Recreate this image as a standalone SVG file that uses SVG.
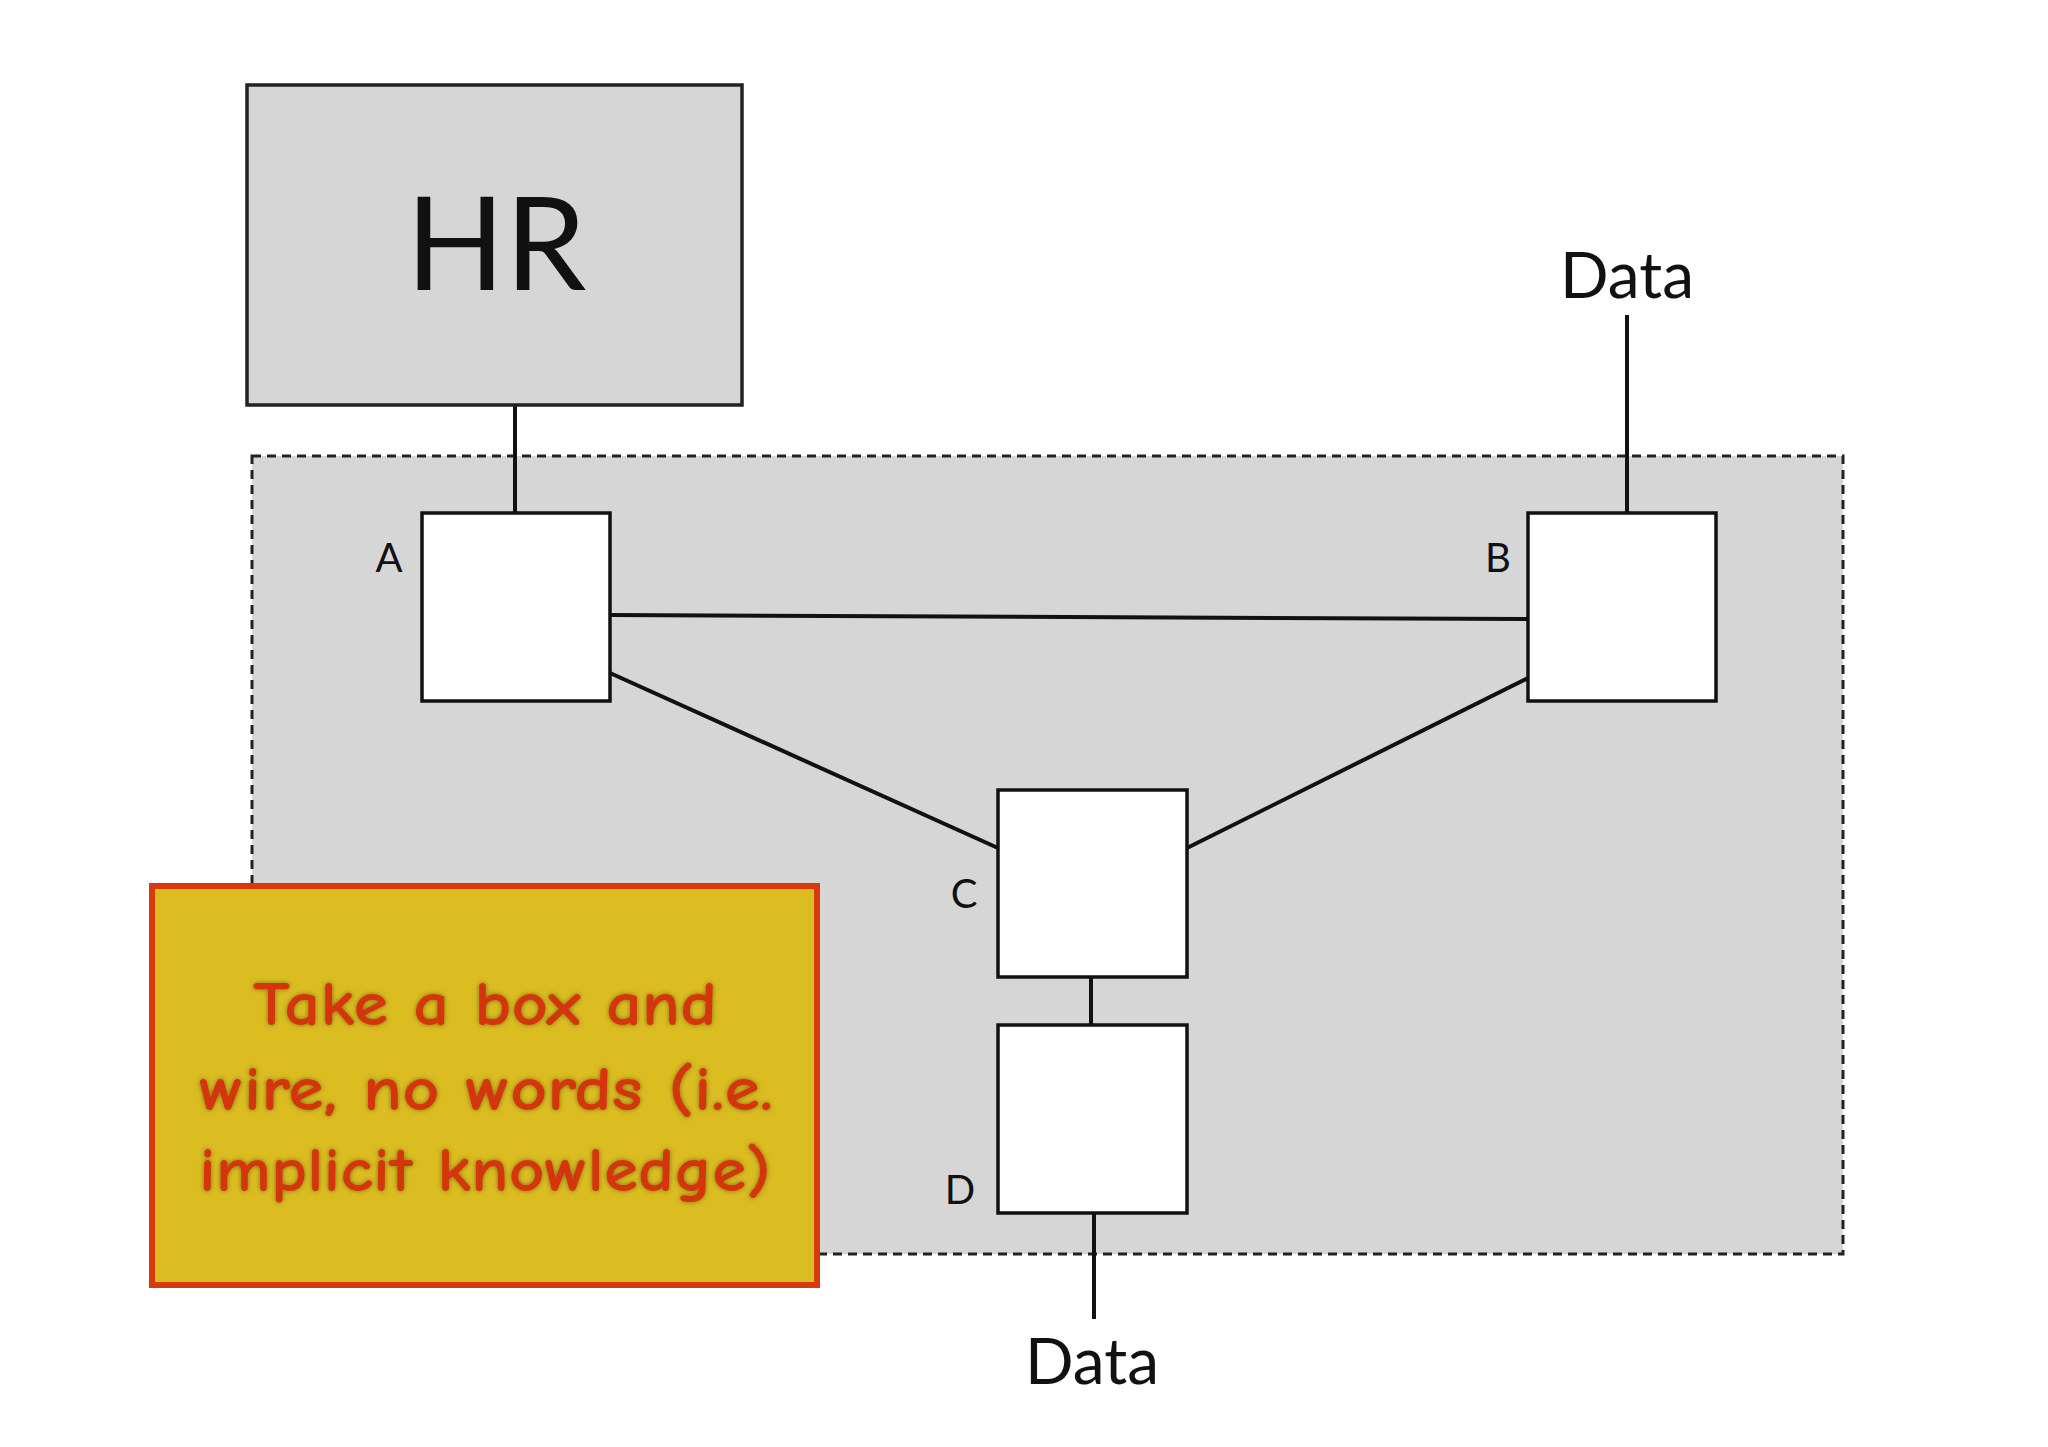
<svg xmlns="http://www.w3.org/2000/svg" width="2048" height="1447" viewBox="0 0 2048 1447">
<style>
.node{fill:#ffffff;stroke:#111;stroke-width:3.5}
.wire{stroke:#111;stroke-width:4;fill:none}
.lbl{font-family:Lato,"Open Sans","DejaVu Sans",sans-serif;fill:#111}
.note{font-family:"Comic Neue","Open Sans","DejaVu Sans",sans-serif;font-weight:bold;fill:#d4360c;font-size:62px;text-anchor:middle}
</style>
<defs>
<filter id="glow" x="-10%" y="-30%" width="120%" height="160%">
<feGaussianBlur in="SourceAlpha" stdDeviation="2.5" result="b"/>
<feFlood flood-color="#6a5a10" flood-opacity="0.8"/>
<feComposite in2="b" operator="in" result="s"/>
<feMerge><feMergeNode in="s"/><feMergeNode in="SourceGraphic"/></feMerge>
</filter>
</defs>
<rect width="2048" height="1447" fill="#ffffff"/>
<g id="region">
<rect x="252" y="456" width="1591" height="798" fill="#d6d6d6" stroke="#222" stroke-width="3" stroke-dasharray="9,6"/>
</g>
<g id="connectors">
<line class="wire" x1="515" y1="405" x2="515" y2="513"/>
<line class="wire" x1="1627" y1="315" x2="1627" y2="513"/>
<line class="wire" x1="610" y1="615" x2="1528" y2="619"/>
<line class="wire" x1="610" y1="673" x2="998" y2="848"/>
<line class="wire" x1="1528" y1="678" x2="1187" y2="848"/>
<line class="wire" x1="1091" y1="977" x2="1091" y2="1025"/>
<line class="wire" x1="1094" y1="1213" x2="1094" y2="1319"/>
</g>
<g id="hr">
<rect x="247" y="85" width="495" height="320" fill="#d6d6d6" stroke="#222" stroke-width="3.5"/>
<text class="lbl" x="496" y="290" font-size="130" text-anchor="middle">HR</text>
</g>
<g id="nodeA">
<rect class="node" x="422" y="513" width="188" height="188"/>
<text class="lbl" x="389" y="572" font-size="40" text-anchor="middle">A</text>
</g>
<g id="nodeB">
<rect class="node" x="1528" y="513" width="188" height="188"/>
<text class="lbl" x="1498" y="572" font-size="40" text-anchor="middle">B</text>
</g>
<g id="nodeC">
<rect class="node" x="998" y="790" width="189" height="187"/>
<text class="lbl" x="964" y="908" font-size="40" text-anchor="middle">C</text>
</g>
<g id="nodeD">
<rect class="node" x="998" y="1025" width="189" height="188"/>
<text class="lbl" x="960" y="1204" font-size="40" text-anchor="middle">D</text>
</g>
<g id="dataTop">
<text class="lbl" x="1627" y="298" font-size="64" text-anchor="middle">Data</text>
</g>
<g id="dataBottom">
<text class="lbl" x="1092" y="1384" font-size="64" text-anchor="middle">Data</text>
</g>
<g id="note">
<rect x="152" y="886" width="665" height="399" fill="#dbbd22" stroke="#d83a10" stroke-width="6"/>
<g filter="url(#glow)">
<text class="note" x="485" y="1025" textLength="464" lengthAdjust="spacingAndGlyphs">Take a box and</text>
<text class="note" x="486" y="1110" textLength="574" lengthAdjust="spacingAndGlyphs">wire, no words (i.e.</text>
<text class="note" x="485" y="1191" textLength="572" lengthAdjust="spacingAndGlyphs">implicit knowledge)</text>
</g>
</g>
</svg>
